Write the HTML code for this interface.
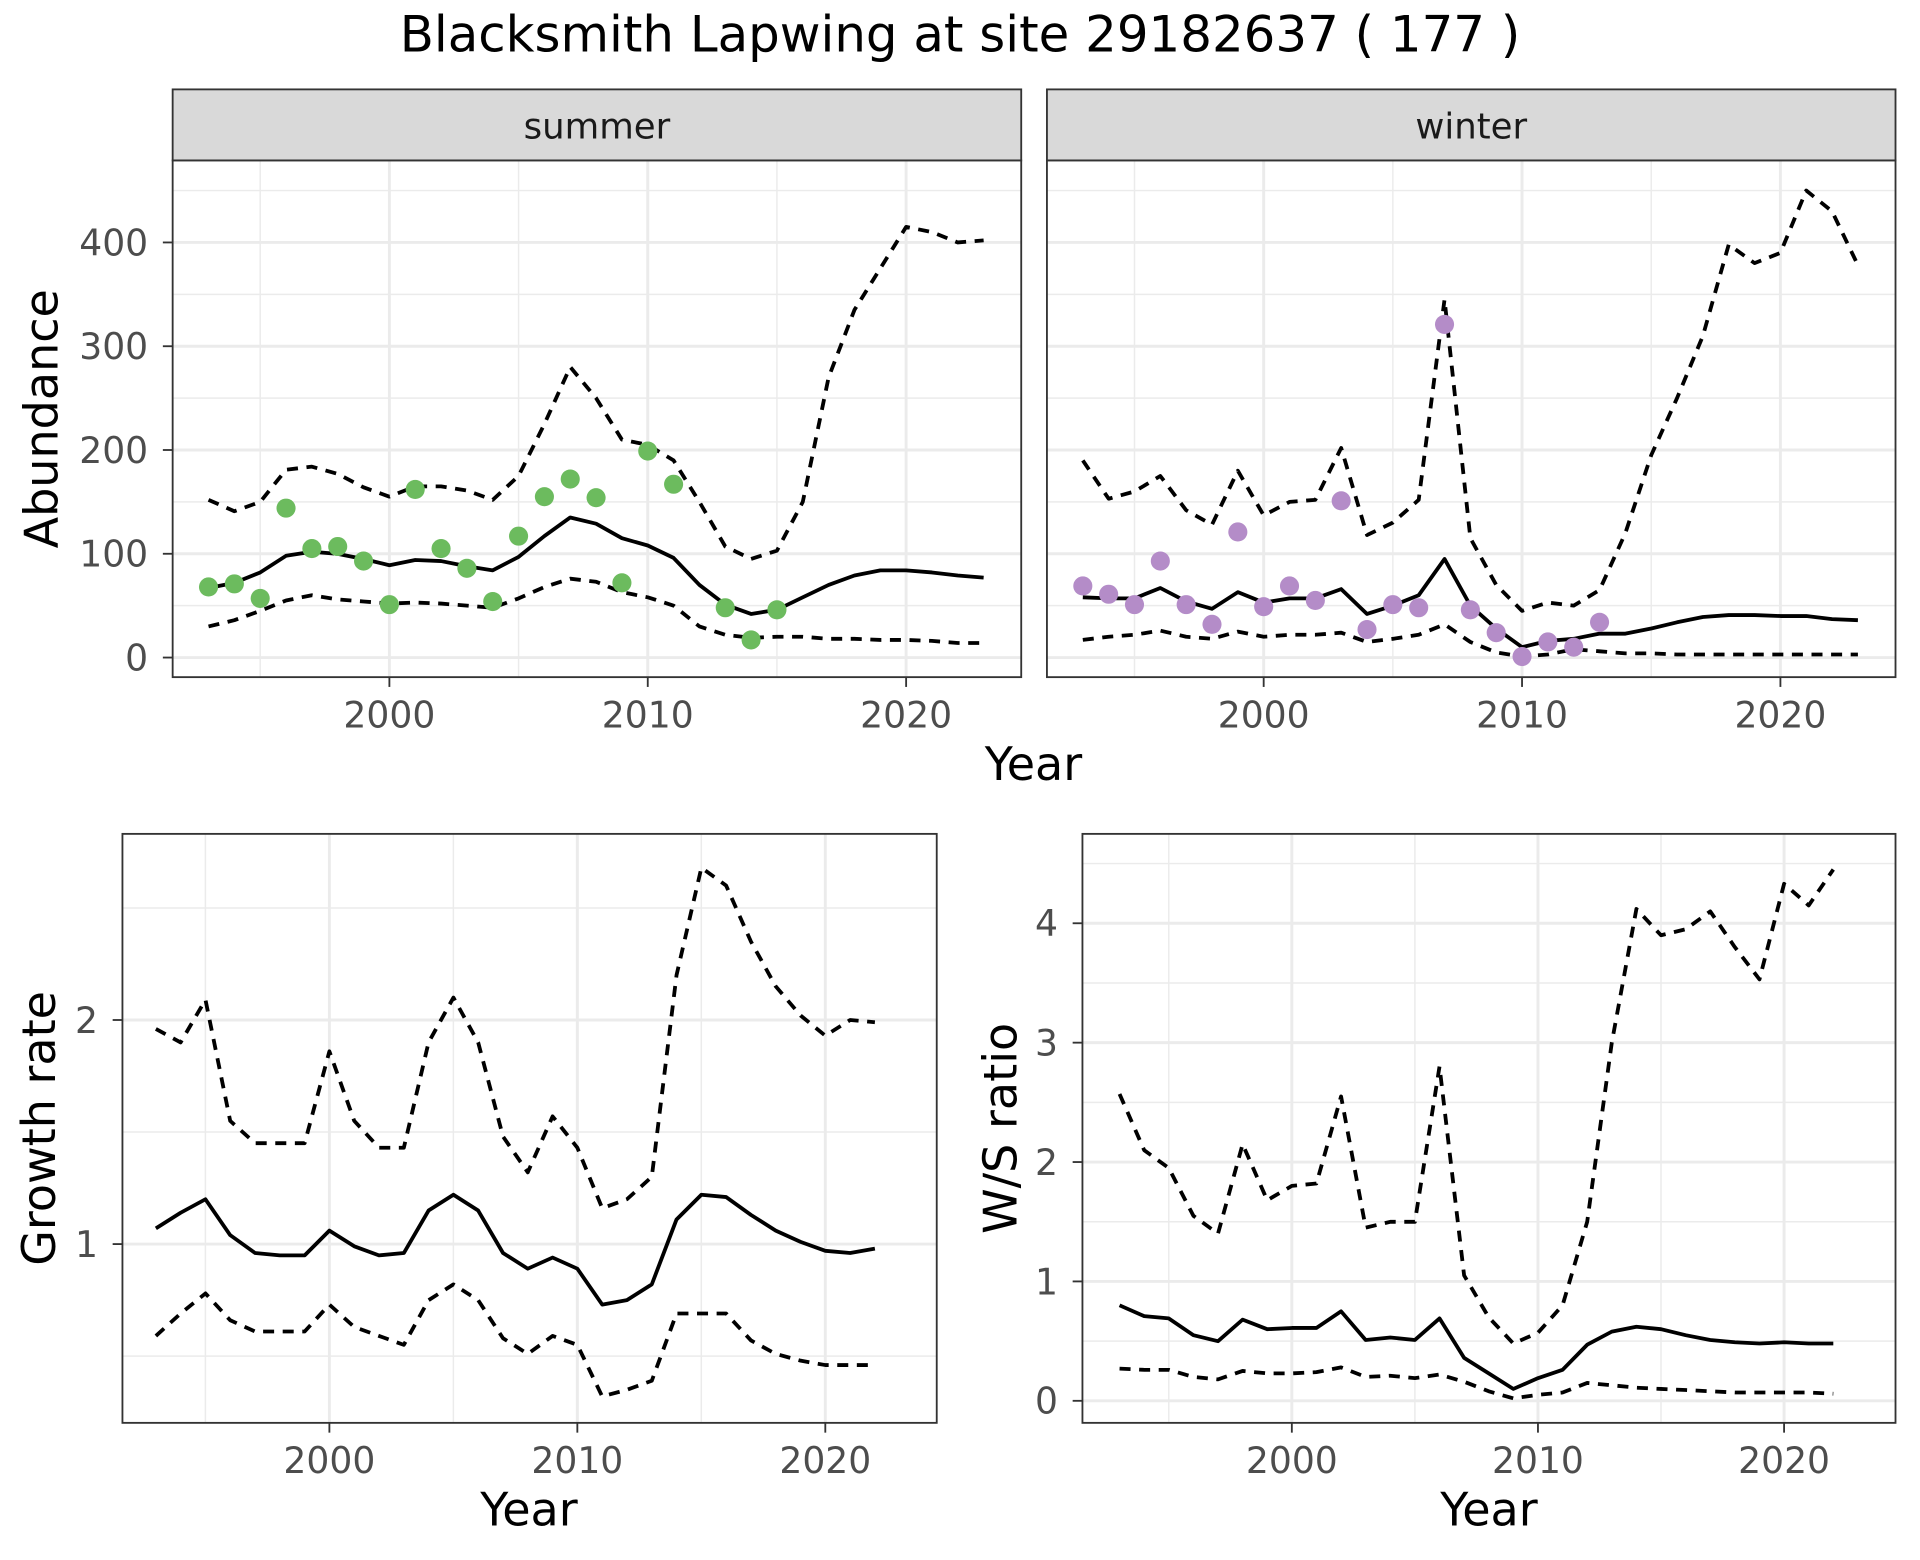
<!DOCTYPE html>
<html><head><meta charset="utf-8"><style>
html,body{margin:0;padding:0;background:#fff;}
svg{display:block;font-family:"DejaVu Sans","Liberation Sans",sans-serif;}
</style></head><body>
<svg id="chart" width="1920" height="1560" viewBox="0 0 1568 1274" xmlns="http://www.w3.org/2000/svg">
<rect width="1568" height="1274" fill="#fff"/>
<text x="784" y="42" text-anchor="middle" font-size="40.7" fill="#000">Blacksmith Lapwing at site 29182637 ( 177 )</text>
<g id="plots"></g>
</svg>
<script>
const yearsAb = [1993,1994,1995,1996,1997,1998,1999,2000,2001,2002,2003,2004,2005,2006,2007,2008,2009,2010,2011,2012,2013,2014,2015,2016,2017,2018,2019,2020,2021,2022,2023];
const summerMid = [67,72,82,98,102,100,95,89,94,93,88,84,97,117,135,129,115,108,96,70,51,42,46,58,70,79,84,84,82,79,77];
const summerUp = [152,141,150,181,184,177,164,155,165,165,161,152,175,225,280,250,210,205,190,150,107,95,103,150,270,335,375,415,410,400,402];
const summerLo = [30,36,45,55,60,56,54,52,53,52,50,48,57,68,76,73,63,58,50,30,22,19,20,20,18,18,17,17,16,14,14];
const summerPtYears = [1993,1994,1995,1996,1997,1998,1999,2000,2001,2002,2003,2004,2005,2006,2007,2008,2009,2010,2011,2013,2014,2015];
const summerPts = [68,71,57,144,105,107,93,51,162,105,86,54,117,155,172,154,72,199,167,48,17,46];
const winterMid = [58,57,57,67,54,47,63,53,57,57,66,42,50,60,95,50,28,10,16,18,23,23,28,34,39,41,41,40,40,37,36];
const winterUp = [190,153,160,175,142,128,180,137,150,152,202,118,130,152,345,115,70,45,53,50,65,120,195,250,310,398,380,390,450,430,378];
const winterLo = [17,20,22,26,20,18,25,20,22,22,24,15,18,22,32,15,5,1,3,8,6,4,4,3,3,3,3,3,3,3,3];
const winterPtYears = [1993,1994,1995,1996,1997,1998,1999,2000,2001,2002,2003,2004,2005,2006,2007,2008,2009,2010,2011,2012,2013];
const winterPts = [69,61,51,93,51,32,121,49,69,55,151,27,51,48,321,46,24,1,15,10,34];
const yearsGr = [1993,1994,1995,1996,1997,1998,1999,2000,2001,2002,2003,2004,2005,2006,2007,2008,2009,2010,2011,2012,2013,2014,2015,2016,2017,2018,2019,2020,2021,2022];
const growthMid = [1.07,1.14,1.20,1.04,0.96,0.95,0.95,1.06,0.99,0.95,0.96,1.15,1.22,1.15,0.96,0.89,0.94,0.89,0.73,0.75,0.82,1.11,1.22,1.21,1.13,1.06,1.01,0.97,0.96,0.98];
const growthUp = [1.96,1.90,2.09,1.55,1.45,1.45,1.45,1.86,1.55,1.43,1.43,1.90,2.10,1.90,1.48,1.32,1.57,1.43,1.16,1.20,1.30,2.20,2.68,2.60,2.35,2.15,2.02,1.93,2.00,1.99];
const growthLo = [0.59,0.69,0.78,0.66,0.61,0.61,0.61,0.73,0.63,0.59,0.55,0.75,0.82,0.75,0.58,0.51,0.59,0.55,0.32,0.35,0.39,0.69,0.69,0.69,0.57,0.51,0.48,0.46,0.46,0.46];
const ratioMid = [0.80,0.71,0.69,0.55,0.50,0.68,0.60,0.61,0.61,0.75,0.51,0.53,0.51,0.69,0.36,0.23,0.10,0.19,0.26,0.47,0.58,0.62,0.60,0.55,0.51,0.49,0.48,0.49,0.48,0.48];
const ratioUp = [2.57,2.10,1.95,1.55,1.40,2.15,1.68,1.80,1.82,2.55,1.45,1.50,1.50,2.80,1.05,0.70,0.48,0.57,0.80,1.50,3.00,4.12,3.90,3.95,4.10,3.80,3.53,4.33,4.15,4.45];
const ratioLo = [0.27,0.26,0.26,0.20,0.18,0.25,0.23,0.23,0.24,0.28,0.20,0.21,0.19,0.22,0.16,0.08,0.02,0.05,0.07,0.15,0.13,0.11,0.10,0.09,0.08,0.07,0.07,0.07,0.07,0.06];
const xTicks = [2000,2010,2020];
const xMinor = [1995,2005,2015];
const abTicks = [0,100,200,300,400];
const abMinor = [50,150,250,350,450];
const grTicks = [1,2];
const grMinor = [0.5,1.5,2.5];
const wsTicks = [0,1,2,3,4];
const wsMinor = [0.5,1.5,2.5,3.5,4.5];

const NS = "http://www.w3.org/2000/svg";
const root = document.getElementById('plots');
function mk(tag, attrs, parent){const e=document.createElementNS(NS,tag);for(const k in attrs)e.setAttribute(k,attrs[k]);(parent||root).appendChild(e);return e;}
function lin(d0,d1,r0,r1){return v=>r0+(v-d0)*(r1-r0)/(d1-d0);}
const TICKFS = 29.5, TITLEFS = 37.6;

function panel(o){
  const g = mk('g',{});
  
  
  const X = lin(2000,2020,o.x2000,o.x2020), Y = lin(o.yv0,o.yv1,o.yp0,o.yp1);
  const clip = mk('clipPath',{id:'c-'+o.name},g);
  mk('rect',{x:o.L,y:o.T,width:o.R-o.L,height:o.B-o.T},clip);
  o.minorY.forEach(v=>{const y=Y(v);if(y>o.T&&y<o.B){const l=mk('line',{x1:o.L,x2:o.R,y1:y,y2:y,stroke:'#ebebeb','stroke-width':1.2},g);}});
  xMinor.forEach(v=>{const x=X(v);const l=mk('line',{x1:x,x2:x,y1:o.T,y2:o.B,stroke:'#ebebeb','stroke-width':1.2},g);});
  o.ticksY.forEach(v=>{const y=Y(v);const l=mk('line',{x1:o.L,x2:o.R,y1:y,y2:y,stroke:'#ebebeb','stroke-width':2.4},g);});
  xTicks.forEach(v=>{const x=X(v);const l=mk('line',{x1:x,x2:x,y1:o.T,y2:o.B,stroke:'#ebebeb','stroke-width':2.4},g);});
  const cg = mk('g',{'clip-path':'url(#c-'+o.name+')'},g);
  function path(ys,vals,dash,nm){
    const d = ys.map((yr,i)=>(i?'L':'M')+X(yr).toFixed(1)+','+Y(vals[i]).toFixed(1)).join('');
    const p = mk('path',{d:d,fill:'none',stroke:'#000','stroke-width':3.1,'stroke-linejoin':'round'},cg);
    if(dash) p.setAttribute('stroke-dasharray','9 7');
    
    
  }
  path(o.years,o.up,true,'upper-bound-line');
  path(o.years,o.lo,true,'lower-bound-line');
  path(o.years,o.mid,false,'estimate-line');
  if(o.ptYears){o.ptYears.forEach((yr,i)=>{const c=mk('circle',{cx:X(yr),cy:Y(o.pts[i]),r:7.8,fill:o.color},g);
    
    });}
  const b = mk('rect',{x:o.L,y:o.T,width:o.R-o.L,height:o.B-o.T,fill:'none',stroke:'#333','stroke-width':1.5},g);
  
  
  if(o.showY){o.ticksY.forEach(v=>{const y=Y(v);mk('line',{x1:o.L-8,x2:o.L,y1:y,y2:y,stroke:'#333','stroke-width':1.5},g);
    const t=mk('text',{x:o.L-20,y:y+10.5,'text-anchor':'end','font-size':TICKFS,fill:'#4d4d4d'},g);t.textContent=v;
    
    });}
  xTicks.forEach(v=>{const x=X(v);mk('line',{x1:x,x2:x,y1:o.B,y2:o.B+8,stroke:'#333','stroke-width':1.5},g);
    const t=mk('text',{x:x,y:o.B+41,'text-anchor':'middle','font-size':TICKFS,fill:'#4d4d4d'},g);t.textContent=v;
    
    });
  if(o.strip){const s=mk('rect',{x:o.L,y:73,width:o.R-o.L,height:o.T-73,fill:'#d9d9d9',stroke:'#333','stroke-width':1.5},g);
    
    
    const t=mk('text',{x:(o.L+o.R)/2,y:113,'text-anchor':'middle','font-size':29,fill:'#1a1a1a'},g);t.textContent=o.strip;
    
    }
  if(o.yTitle){const t=mk('text',{x:0,y:0,'text-anchor':'middle','font-size':TITLEFS,fill:'#000',transform:`translate(${o.yTitleX},${(o.T+o.B)/2}) rotate(-90)`},g);t.textContent=o.yTitle;
    
    }
  if(o.xTitle){const t=mk('text',{x:o.xTitleX,y:o.xTitleY,'text-anchor':'middle','font-size':TITLEFS,fill:'#000'},g);t.textContent='Year';
    
    }
}
panel({name:'summer-panel',L:141,R:834,T:131,B:553,x2000:318,x2020:740,yv0:0,yv1:400,yp0:537,yp1:198,ticksY:abTicks,minorY:abMinor,years:yearsAb,mid:summerMid,up:summerUp,lo:summerLo,ptYears:summerPtYears,pts:summerPts,color:'#6cbb5e',showY:true,strip:'summer',yTitle:'Abundance',yTitleX:47});
panel({name:'winter-panel',L:855,R:1548,T:131,B:553,x2000:1032,x2020:1454,yv0:0,yv1:400,yp0:537,yp1:198,ticksY:abTicks,minorY:abMinor,years:yearsAb,mid:winterMid,up:winterUp,lo:winterLo,ptYears:winterPtYears,pts:winterPts,color:'#b48cc8',showY:false,strip:'winter',xTitle:true,xTitleX:844,xTitleY:637});
panel({name:'growth-panel',L:100,R:765,T:681,B:1162,x2000:269,x2020:674,yv0:1,yv1:2,yp0:1016,yp1:833,ticksY:grTicks,minorY:grMinor,years:yearsGr,mid:growthMid,up:growthUp,lo:growthLo,showY:true,yTitle:'Growth rate',yTitleX:45,xTitle:true,xTitleX:432,xTitleY:1246});
panel({name:'ratio-panel',L:884,R:1548,T:681,B:1162,x2000:1055,x2020:1457,yv0:0,yv1:4,yp0:1144,yp1:754,ticksY:wsTicks,minorY:wsMinor,years:yearsGr,mid:ratioMid,up:ratioUp,lo:ratioLo,showY:true,yTitle:'W/S ratio',yTitleX:830,xTitle:true,xTitleX:1216,xTitleY:1246});
</script>
</body></html>
